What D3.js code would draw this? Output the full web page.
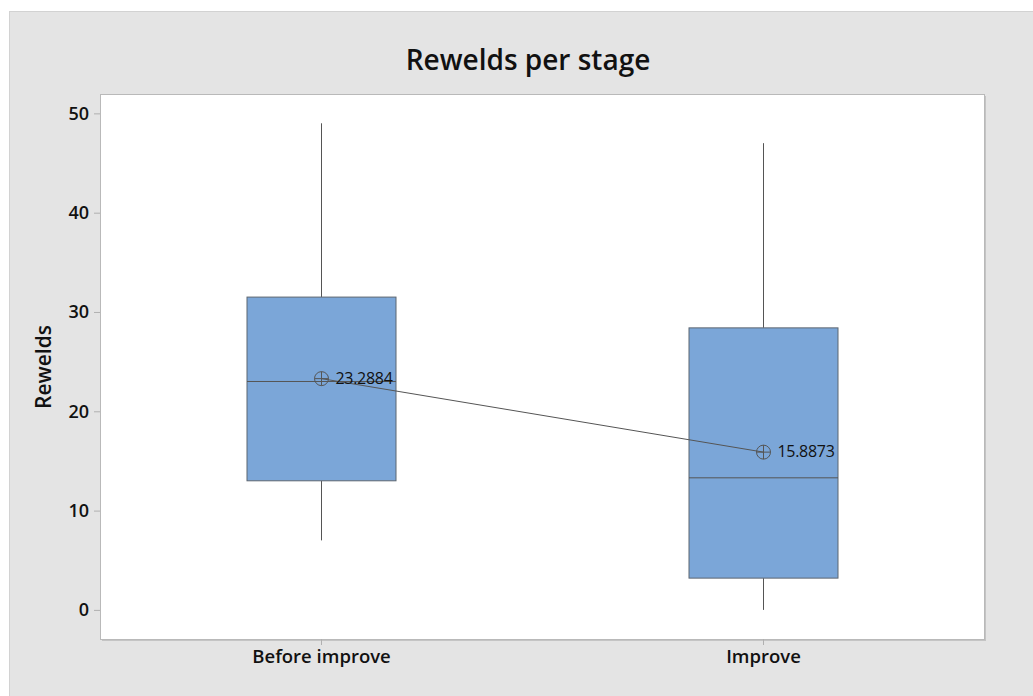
<!DOCTYPE html>
<html><head><meta charset="utf-8">
<script src="https://cdn.jsdelivr.net/npm/d3@7"></script>
<style>body{margin:0;background:#fff;}svg{display:block;}</style>
</head><body>
<svg id="c" width="1033" height="696"></svg>
<script>
const categories = ["Before improve", "Improve"];
const whiskerLow = [7, 0];
const q1 = [13, 3.2];
const median = [23, 13.3];
const q3 = [31.5, 28.4];
const whiskerHigh = [49, 47];
const means = [23.2884, 15.8873];
const meanLabels = ["23.2884", "15.8873"];
const yTicks = [0, 10, 20, 30, 40, 50];

const svg = d3.select("#c");
const font = "'Open Sans', 'Noto Sans', sans-serif";
svg.append("rect").attr("x", 9.5).attr("y", 11.5).attr("width", 1030).attr("height", 690)
  .attr("fill", "#e4e4e4").attr("stroke", "#d2d2d2");

const L = 100, T = 94, R = 984, B = 639;
svg.append("rect").attr("x", L + 2).attr("y", T + 2).attr("width", R - L).attr("height", B - T).attr("fill", "#c4c4c4");
svg.append("rect").attr("x", L + 0.5).attr("y", T + 0.5).attr("width", R - L).attr("height", B - T)
  .attr("fill", "#fff").attr("stroke", "#b9b9b9");

const y = d3.scaleLinear().domain([-2.93, 51.95]).range([B, T]);
const x = d3.scalePoint().domain(categories).range([L, R]).padding(0.5);
const bw = 149;

const yAxis = svg.append("g").attr("transform", `translate(${L},0)`)
  .call(d3.axisLeft(y).tickValues(yTicks).tickSize(6).tickPadding(5));
yAxis.select(".domain").remove();
yAxis.selectAll("line").attr("stroke", "#b0b0b0");
yAxis.selectAll("text").attr("font-family", font).attr("font-size", 18).attr("font-weight", 600).attr("fill", "#111");

const xAxis = svg.append("g").attr("transform", `translate(0,${B})`)
  .call(d3.axisBottom(x).tickSize(6).tickPadding(5));
xAxis.select(".domain").remove();
xAxis.selectAll("line").attr("stroke", "#b0b0b0");
xAxis.selectAll("text").attr("font-family", font).attr("font-size", 18.5).attr("font-weight", 600).attr("fill", "#111");

svg.append("text").attr("x", 528).attr("y", 70).attr("text-anchor", "middle")
  .attr("font-family", font).attr("font-size", 28).attr("font-weight", 600).attr("fill", "#111").text("Rewelds per stage");
svg.append("text").attr("transform", "translate(51,367) rotate(-90)").attr("text-anchor", "middle")
  .attr("font-family", font).attr("font-size", 21).attr("font-weight", 600).attr("fill", "#111").text("Rewelds");

const g = svg.append("g");
categories.forEach((c, i) => {
  const cx = Math.round(x(c)) + 0.5;
  g.append("line").attr("x1", cx).attr("x2", cx).attr("y1", y(whiskerHigh[i])).attr("y2", y(q3[i])).attr("stroke", "#555");
  g.append("line").attr("x1", cx).attr("x2", cx).attr("y1", y(q1[i])).attr("y2", y(whiskerLow[i])).attr("stroke", "#555");
  g.append("rect").attr("x", cx - bw / 2).attr("y", y(q3[i])).attr("width", bw).attr("height", y(q1[i]) - y(q3[i]))
    .attr("fill", "#7ba6d8").attr("stroke", "#5d6670");
  g.append("line").attr("x1", cx - bw / 2).attr("x2", cx + bw / 2).attr("y1", y(median[i])).attr("y2", y(median[i])).attr("stroke", "#555");
});

const line = d3.line().x((d, i) => x(categories[i]) + 0.5).y(d => y(d));
g.append("path").datum(means).attr("d", line).attr("fill", "none").attr("stroke", "#555");
means.forEach((m, i) => {
  const cx = x(categories[i]) + 0.5, cy = y(m);
  g.append("circle").attr("cx", cx).attr("cy", cy).attr("r", 7).attr("fill", "none").attr("stroke", "#555");
  g.append("line").attr("x1", cx - 7).attr("x2", cx + 7).attr("y1", cy).attr("y2", cy).attr("stroke", "#555");
  g.append("line").attr("x1", cx).attr("x2", cx).attr("y1", cy - 7).attr("y2", cy + 7).attr("stroke", "#555");
  g.append("text").attr("x", cx + 14).attr("y", cy + 5).attr("font-family", font).attr("font-size", 16)
    .attr("fill", "#111").attr("letter-spacing", -0.3).text(meanLabels[i]);
});
</script>
</body></html>
